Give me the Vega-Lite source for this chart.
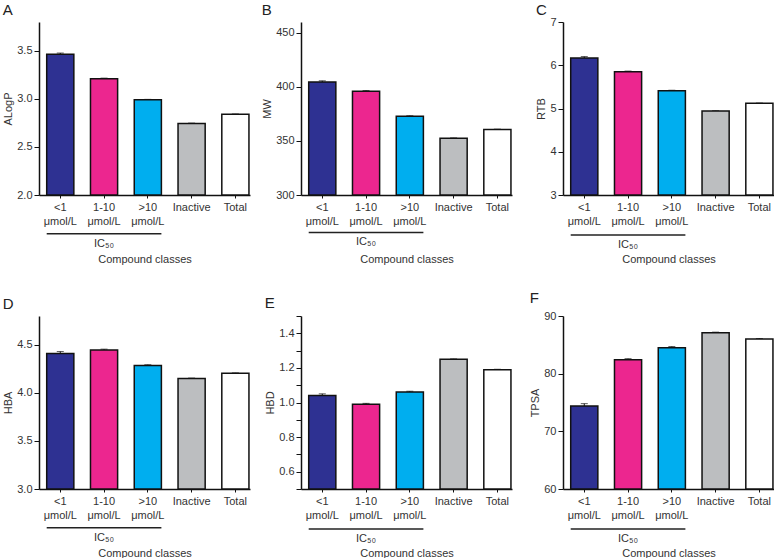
{
  "$schema": "https://vega.github.io/schema/vega-lite/v6.json",
  "padding": {"left": 2, "top": 3, "right": 0, "bottom": 0},
  "datasets": {
    "props": [
      {"prop": "ALogP", "cls": "<1 μmol/L", "mean": 3.465, "sem": 0.012},
      {"prop": "ALogP", "cls": "1-10 μmol/L", "mean": 3.21, "sem": 0.006},
      {"prop": "ALogP", "cls": ">10 μmol/L", "mean": 2.99, "sem": 0.005},
      {"prop": "ALogP", "cls": "Inactive", "mean": 2.745, "sem": 0.003},
      {"prop": "ALogP", "cls": "Total", "mean": 2.84, "sem": 0.003},
      {"prop": "MW", "cls": "<1 μmol/L", "mean": 404.4, "sem": 1.2},
      {"prop": "MW", "cls": "1-10 μmol/L", "mean": 395.9, "sem": 0.7},
      {"prop": "MW", "cls": ">10 μmol/L", "mean": 372.8, "sem": 0.5},
      {"prop": "MW", "cls": "Inactive", "mean": 352.5, "sem": 0.3},
      {"prop": "MW", "cls": "Total", "mean": 360.6, "sem": 0.3},
      {"prop": "RTB", "cls": "<1 μmol/L", "mean": 6.17, "sem": 0.03},
      {"prop": "RTB", "cls": "1-10 μmol/L", "mean": 5.85, "sem": 0.015},
      {"prop": "RTB", "cls": ">10 μmol/L", "mean": 5.41, "sem": 0.012},
      {"prop": "RTB", "cls": "Inactive", "mean": 4.94, "sem": 0.006},
      {"prop": "RTB", "cls": "Total", "mean": 5.12, "sem": 0.006},
      {"prop": "HBA", "cls": "<1 μmol/L", "mean": 4.41, "sem": 0.02},
      {"prop": "HBA", "cls": "1-10 μmol/L", "mean": 4.445, "sem": 0.01},
      {"prop": "HBA", "cls": ">10 μmol/L", "mean": 4.285, "sem": 0.008},
      {"prop": "HBA", "cls": "Inactive", "mean": 4.15, "sem": 0.004},
      {"prop": "HBA", "cls": "Total", "mean": 4.205, "sem": 0.003},
      {"prop": "HBD", "cls": "<1 μmol/L", "mean": 1.04, "sem": 0.01},
      {"prop": "HBD", "cls": "1-10 μmol/L", "mean": 0.99, "sem": 0.005},
      {"prop": "HBD", "cls": ">10 μmol/L", "mean": 1.06, "sem": 0.005},
      {"prop": "HBD", "cls": "Inactive", "mean": 1.25, "sem": 0.002},
      {"prop": "HBD", "cls": "Total", "mean": 1.19, "sem": 0.002},
      {"prop": "TPSA", "cls": "<1 μmol/L", "mean": 74.4, "sem": 0.4},
      {"prop": "TPSA", "cls": "1-10 μmol/L", "mean": 82.4, "sem": 0.2},
      {"prop": "TPSA", "cls": ">10 μmol/L", "mean": 84.5, "sem": 0.2},
      {"prop": "TPSA", "cls": "Inactive", "mean": 87.1, "sem": 0.1},
      {"prop": "TPSA", "cls": "Total", "mean": 86.0, "sem": 0.1}
    ]
  },
  "config": {
    "view": {"stroke": null},
    "font": "Liberation Sans",
    "title": {"font": "Liberation Sans", "fontSize": 15, "fontWeight": "normal", "color": "#222", "anchor": "start", "frame": "bounds", "offset": 4},
    "axis": {"labelFont": "Liberation Sans", "titleFont": "Liberation Sans", "labelFontSize": 11, "titleFontSize": 11, "titleFontWeight": "normal", "labelColor": "#333", "titleColor": "#333", "domainColor": "#111", "tickColor": "#111", "domainWidth": 1.5, "tickWidth": 1, "grid": false},
    "axisX": {"labelAngle": 0, "tickSize": 3, "labelPadding": 3, "labelLineHeight": 14, "titlePadding": 27, "labelExpr": "split(datum.label, ' ')"},
    "axisY": {"tickSize": 5, "labelPadding": 2, "titlePadding": 3, "labelOverlap": false, "labelFlush": false},
    "text": {"font": "Liberation Sans"}
  },
  "columns": 3,
  "spacing": {"row": 121, "column": 51},
  "bounds": "flush",
  "concat": [
    {
      "title": "A", "width": 211, "height": 173,
      "data": {"name": "props"},
      "transform": [{"filter": "datum.prop == 'ALogP'"}],
      "encoding": {"x": {"field": "cls", "type": "nominal", "sort": null, "scale": {"domain": ["<1 μmol/L", "1-10 μmol/L", ">10 μmol/L", "Inactive", "Total"], "paddingInner": 0.38, "paddingOuter": 0.1, "align": 0.88}, "axis": {"title": "Compound classes"}}},
      "layer": [
        {"mark": {"type": "errorbar", "ticks": {"size": 7, "color": "#111"}, "rule": {"color": "#111"}},
         "encoding": {"y": {"field": "mean", "type": "quantitative", "scale": {"domain": [2, 3.75]}, "axis": {"title": "ALogP", "values": [2, 2.25, 2.5, 2.75, 3, 3.25, 3.5, 3.75], "labelExpr": "(datum.value * 2) % 1 == 0 ? format(datum.value, '.1f') : ''"}}, "yError": {"field": "sem"}}},
        {"mark": {"type": "bar", "stroke": "#111", "strokeWidth": 1.5},
         "encoding": {"y": {"field": "mean", "type": "quantitative"}, "y2": {"datum": 2}, "color": {"field": "cls", "type": "nominal", "scale": {"domain": ["<1 μmol/L", "1-10 μmol/L", ">10 μmol/L", "Inactive", "Total"], "range": ["#2e3192", "#ec268f", "#00aeef", "#bcbec0", "#ffffff"]}, "legend": null}}},
        {"transform": [{"filter": "datum.cls == 'Total'"}], "mark": {"type": "rule", "color": "#222", "strokeWidth": 1.5},
         "encoding": {"x": {"datum": "<1 μmol/L", "bandPosition": 0}, "x2": {"datum": ">10 μmol/L", "bandPosition": 1}, "y": {"datum": 1.596}}},
        {"transform": [{"filter": "datum.cls == 'Total'"}], "mark": {"type": "text", "fontSize": 11, "color": "#333", "baseline": "middle"},
         "encoding": {"x": {"datum": "1-10 μmol/L"}, "y": {"datum": 1.495}, "text": {"value": "IC₅₀"}}}
      ]
    },
    {
      "title": "B", "width": 211, "height": 173,
      "data": {"name": "props"},
      "transform": [{"filter": "datum.prop == 'MW'"}],
      "encoding": {"x": {"field": "cls", "type": "nominal", "sort": null, "scale": {"domain": ["<1 μmol/L", "1-10 μmol/L", ">10 μmol/L", "Inactive", "Total"], "paddingInner": 0.38, "paddingOuter": 0.1, "align": 0.88}, "axis": {"title": "Compound classes"}}},
      "layer": [
        {"mark": {"type": "errorbar", "ticks": {"size": 7, "color": "#111"}, "rule": {"color": "#111"}},
         "encoding": {"y": {"field": "mean", "type": "quantitative", "scale": {"domain": [300, 450]}, "axis": {"title": "MW", "values": [300, 325, 350, 375, 400, 425, 450], "labelExpr": "datum.value % 50 == 0 ? format(datum.value, 'd') : ''"}}, "yError": {"field": "sem"}}},
        {"mark": {"type": "bar", "stroke": "#111", "strokeWidth": 1.5},
         "encoding": {"y": {"field": "mean", "type": "quantitative"}, "y2": {"datum": 300}, "color": {"field": "cls", "type": "nominal", "scale": {"domain": ["<1 μmol/L", "1-10 μmol/L", ">10 μmol/L", "Inactive", "Total"], "range": ["#2e3192", "#ec268f", "#ffffff", "#bcbec0", "#ffffff"]}, "legend": null}}},
        {"transform": [{"filter": "datum.cls == 'Total'"}], "mark": {"type": "rule", "color": "#222", "strokeWidth": 1.5},
         "encoding": {"x": {"datum": "<1 μmol/L", "bandPosition": 0}, "x2": {"datum": ">10 μmol/L", "bandPosition": 1}, "y": {"datum": 265.3}}},
        {"transform": [{"filter": "datum.cls == 'Total'"}], "mark": {"type": "text", "fontSize": 11, "color": "#333", "baseline": "middle"},
         "encoding": {"x": {"datum": "1-10 μmol/L"}, "y": {"datum": 256.6}, "text": {"value": "IC₅₀"}}}
      ]
    },
    {
      "title": {"text": "C", "offset": -2}, "width": 211, "height": 173,
      "data": {"name": "props"},
      "transform": [{"filter": "datum.prop == 'RTB'"}],
      "encoding": {"x": {"field": "cls", "type": "nominal", "sort": null, "scale": {"domain": ["<1 μmol/L", "1-10 μmol/L", ">10 μmol/L", "Inactive", "Total"], "paddingInner": 0.38, "paddingOuter": 0.1, "align": 0.88}, "axis": {"title": "Compound classes"}}},
      "layer": [
        {"mark": {"type": "errorbar", "ticks": {"size": 7, "color": "#111"}, "rule": {"color": "#111"}},
         "encoding": {"y": {"field": "mean", "type": "quantitative", "scale": {"domain": [3, 7]}, "axis": {"title": "RTB", "values": [3, 3.5, 4, 4.5, 5, 5.5, 6, 6.5, 7], "labelExpr": "datum.value % 1 == 0 ? format(datum.value, 'd') : ''"}}, "yError": {"field": "sem"}}},
        {"mark": {"type": "bar", "stroke": "#111", "strokeWidth": 1.5},
         "encoding": {"y": {"field": "mean", "type": "quantitative"}, "y2": {"datum": 3}, "color": {"field": "cls", "type": "nominal", "scale": {"domain": ["<1 μmol/L", "1-10 μmol/L", ">10 μmol/L", "Inactive", "Total"], "range": ["#2e3192", "#ec268f", "#00aeef", "#bcbec0", "#ffffff"]}, "legend": null}}},
        {"transform": [{"filter": "datum.cls == 'Total'"}], "mark": {"type": "rule", "color": "#222", "strokeWidth": 1.5},
         "encoding": {"x": {"datum": "<1 μmol/L", "bandPosition": 0}, "x2": {"datum": ">10 μmol/L", "bandPosition": 1}, "y": {"datum": 2.075}}},
        {"transform": [{"filter": "datum.cls == 'Total'"}], "mark": {"type": "text", "fontSize": 11, "color": "#333", "baseline": "middle"},
         "encoding": {"x": {"datum": "1-10 μmol/L"}, "y": {"datum": 1.845}, "text": {"value": "IC₅₀"}}}
      ]
    },
    {
      "title": "D", "width": 211, "height": 173,
      "data": {"name": "props"},
      "transform": [{"filter": "datum.prop == 'HBA'"}],
      "encoding": {"x": {"field": "cls", "type": "nominal", "sort": null, "scale": {"domain": ["<1 μmol/L", "1-10 μmol/L", ">10 μmol/L", "Inactive", "Total"], "paddingInner": 0.38, "paddingOuter": 0.1, "align": 0.88}, "axis": {"title": "Compound classes"}}},
      "layer": [
        {"mark": {"type": "errorbar", "ticks": {"size": 7, "color": "#111"}, "rule": {"color": "#111"}},
         "encoding": {"y": {"field": "mean", "type": "quantitative", "scale": {"domain": [3, 4.75]}, "axis": {"title": "HBA", "values": [3, 3.25, 3.5, 3.75, 4, 4.25, 4.5, 4.75], "labelExpr": "(datum.value * 2) % 1 == 0 ? format(datum.value, '.1f') : ''"}}, "yError": {"field": "sem"}}},
        {"mark": {"type": "bar", "stroke": "#111", "strokeWidth": 1.5},
         "encoding": {"y": {"field": "mean", "type": "quantitative"}, "y2": {"datum": 3}, "color": {"field": "cls", "type": "nominal", "scale": {"domain": ["<1 μmol/L", "1-10 μmol/L", ">10 μmol/L", "Inactive", "Total"], "range": ["#2e3192", "#ec268f", "#00aeef", "#bcbec0", "#ffffff"]}, "legend": null}}},
        {"transform": [{"filter": "datum.cls == 'Total'"}], "mark": {"type": "rule", "color": "#222", "strokeWidth": 1.5},
         "encoding": {"x": {"datum": "<1 μmol/L", "bandPosition": 0}, "x2": {"datum": ">10 μmol/L", "bandPosition": 1}, "y": {"datum": 2.596}}},
        {"transform": [{"filter": "datum.cls == 'Total'"}], "mark": {"type": "text", "fontSize": 11, "color": "#333", "baseline": "middle"},
         "encoding": {"x": {"datum": "1-10 μmol/L"}, "y": {"datum": 2.495}, "text": {"value": "IC₅₀"}}}
      ]
    },
    {
      "title": {"text": "E", "offset": -1}, "width": 211, "height": 173,
      "data": {"name": "props"},
      "transform": [{"filter": "datum.prop == 'HBD'"}],
      "encoding": {"x": {"field": "cls", "type": "nominal", "sort": null, "scale": {"domain": ["<1 μmol/L", "1-10 μmol/L", ">10 μmol/L", "Inactive", "Total"], "paddingInner": 0.38, "paddingOuter": 0.1, "align": 0.88}, "axis": {"title": "Compound classes"}}},
      "layer": [
        {"mark": {"type": "errorbar", "ticks": {"size": 7, "color": "#111"}, "rule": {"color": "#111"}},
         "encoding": {"y": {"field": "mean", "type": "quantitative", "scale": {"domain": [0.5, 1.5]}, "axis": {"title": "HBD", "tickCount": 10, "format": ".1f", "labelExpr": "indexof(['0.6', '0.8', '1.0', '1.2', '1.4'], datum.label) >= 0 ? datum.label : ''"}}, "yError": {"field": "sem"}}},
        {"mark": {"type": "bar", "stroke": "#111", "strokeWidth": 1.5},
         "encoding": {"y": {"field": "mean", "type": "quantitative"}, "y2": {"datum": 0.5}, "color": {"field": "cls", "type": "nominal", "scale": {"domain": ["<1 μmol/L", "1-10 μmol/L", ">10 μmol/L", "Inactive", "Total"], "range": ["#2e3192", "#ec268f", "#00aeef", "#bcbec0", "#ffffff"]}, "legend": null}}},
        {"transform": [{"filter": "datum.cls == 'Total'"}], "mark": {"type": "rule", "color": "#222", "strokeWidth": 1.5},
         "encoding": {"x": {"datum": "<1 μmol/L", "bandPosition": 0}, "x2": {"datum": ">10 μmol/L", "bandPosition": 1}, "y": {"datum": 0.269}}},
        {"transform": [{"filter": "datum.cls == 'Total'"}], "mark": {"type": "text", "fontSize": 11, "color": "#333", "baseline": "middle"},
         "encoding": {"x": {"datum": "1-10 μmol/L"}, "y": {"datum": 0.211}, "text": {"value": "IC₅₀"}}}
      ]
    },
    {
      "title": "F", "width": 211, "height": 173,
      "data": {"name": "props"},
      "transform": [{"filter": "datum.prop == 'TPSA'"}],
      "encoding": {"x": {"field": "cls", "type": "nominal", "sort": null, "scale": {"domain": ["<1 μmol/L", "1-10 μmol/L", ">10 μmol/L", "Inactive", "Total"], "paddingInner": 0.38, "paddingOuter": 0.1, "align": 0.88}, "axis": {"title": "Compound classes"}}},
      "layer": [
        {"mark": {"type": "errorbar", "ticks": {"size": 7, "color": "#111"}, "rule": {"color": "#111"}},
         "encoding": {"y": {"field": "mean", "type": "quantitative", "scale": {"domain": [60, 90]}, "axis": {"title": "TPSA", "values": [60, 65, 70, 75, 80, 85, 90], "labelExpr": "datum.value % 10 == 0 ? format(datum.value, 'd') : ''"}}, "yError": {"field": "sem"}}},
        {"mark": {"type": "bar", "stroke": "#111", "strokeWidth": 1.5},
         "encoding": {"y": {"field": "mean", "type": "quantitative"}, "y2": {"datum": 60}, "color": {"field": "cls", "type": "nominal", "scale": {"domain": ["<1 μmol/L", "1-10 μmol/L", ">10 μmol/L", "Inactive", "Total"], "range": ["#2e3192", "#ec268f", "#00aeef", "#bcbec0", "#ffffff"]}, "legend": null}}},
        {"transform": [{"filter": "datum.cls == 'Total'"}], "mark": {"type": "rule", "color": "#222", "strokeWidth": 1.5},
         "encoding": {"x": {"datum": "<1 μmol/L", "bandPosition": 0}, "x2": {"datum": ">10 μmol/L", "bandPosition": 1}, "y": {"datum": 53.07}}},
        {"transform": [{"filter": "datum.cls == 'Total'"}], "mark": {"type": "text", "fontSize": 11, "color": "#333", "baseline": "middle"},
         "encoding": {"x": {"datum": "1-10 μmol/L"}, "y": {"datum": 51.33}, "text": {"value": "IC₅₀"}}}
      ]
    }
  ]
}
